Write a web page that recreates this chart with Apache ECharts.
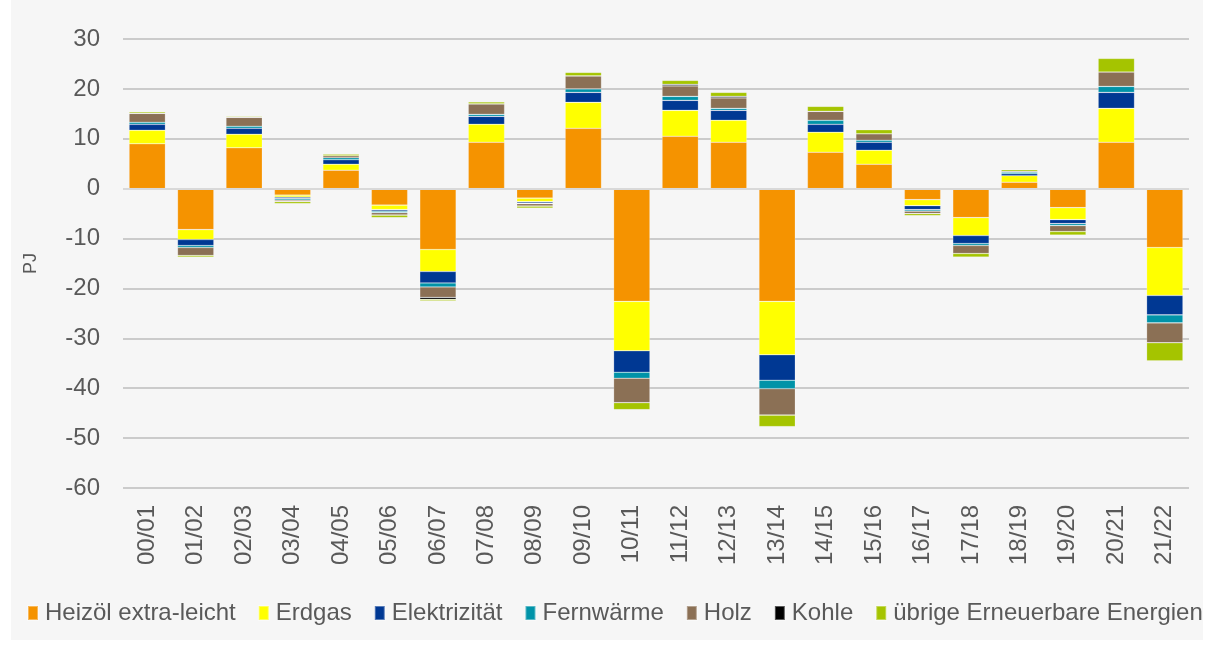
<!DOCTYPE html>
<html>
<head>
<meta charset="utf-8">
<script src="https://cdn.jsdelivr.net/npm/echarts@6/dist/echarts.min.js"></script>
<style>
html,body{margin:0;padding:0;background:#ffffff;}
#wrap{position:absolute;left:11px;top:0;width:1192px;height:640px;background:#f6f6f6;}
#chart{width:1192px;height:640px;}
</style>
</head>
<body>
<div id="wrap"><div id="chart"></div></div>
<script>
const categories = ['00/01','01/02','02/03','03/04','04/05','05/06','06/07','07/08','08/09','09/10','10/11','11/12','12/13','13/14','14/15','15/16','16/17','17/18','18/19','19/20','20/21','21/22'];
const seriesNames = ['Heizöl extra-leicht','Erdgas','Elektrizität','Fernwärme','Holz','Kohle','übrige Erneuerbare Energien'];
const heizoel      = [9.0,-8.2,8.2,-1.3,3.7,-3.3,-12.2,9.3,-1.9,12.1,-22.6,10.5,9.3,-22.6,7.3,4.9,-2.2,-5.8,1.3,-3.8,9.3,-11.8];
const erdgas       = [2.7,-2.0,2.7,-0.4,1.2,-0.9,-4.4,3.6,-0.7,5.2,-9.9,5.2,4.4,-10.7,4.0,2.8,-1.2,-3.6,1.3,-2.4,6.8,-9.6];
const elektrizitaet= [1.2,-1.2,1.2,-0.3,0.9,-0.3,-2.3,1.6,-0.3,2.0,-4.3,2.0,2.0,-5.1,1.6,1.6,-0.8,-1.6,0.4,-0.8,3.2,-3.9];
const fernwaerme   = [0.4,-0.4,0.4,-0.3,0.4,-0.3,-0.8,0.4,-0.1,0.7,-1.2,0.8,0.4,-1.7,0.8,0.4,-0.3,-0.4,0.3,-0.4,1.2,-1.6];
const holz         = [1.8,-1.6,1.8,-0.3,0.4,-0.5,-2.1,2.1,-0.5,2.6,-4.9,2.1,2.1,-5.3,1.8,1.3,-0.5,-1.6,0.2,-1.2,2.9,-4.0];
const kohle        = [0,0,0,0,0,0,-0.4,0,0,0,0,0.3,0.3,0,0,0,0,0,0,0,0,0];
const uebrige      = [0.3,-0.3,0.2,-0.4,0.3,-0.5,-0.3,0.4,-0.4,0.7,-1.4,0.8,0.8,-2.3,1.0,0.8,-0.4,-0.7,0.3,-0.7,2.7,-3.6];
const yMin = -60, yMax = 30, yStep = 10;

const values = [heizoel, erdgas, elektrizitaet, fernwaerme, holz, kohle, uebrige];
const colors = ['#F59300','#FFFF00','#003893','#0093A8','#8B7055','#000000','#A5C400'];

const chart = echarts.init(document.getElementById('chart'), null, {renderer:'canvas'});
const font = '"Liberation Sans", Arial, sans-serif';
chart.setOption({
  animation:false,
  backgroundColor:'transparent',
  textStyle:{fontFamily:font},
  grid:{left:112, right:14, top:39, bottom:152},
  legend:{
    top:601, left:16, width:1176, padding:0,
    itemWidth:10, itemHeight:14, itemGap:22,
    icon:'rect',
    textStyle:{fontFamily:font, fontSize:24, color:'#595959', padding:[0,0,0,2]},
    data:seriesNames
  },
  xAxis:{
    type:'category', data:categories,
    axisLine:{show:false}, axisTick:{show:false},
    axisLabel:{rotate:90, fontSize:24, color:'#595959', margin:17, fontFamily:font}
  },
  yAxis:{
    type:'value', min:yMin, max:yMax, interval:yStep,
    name:'PJ', nameLocation:'middle', nameGap:83, nameRotate:90,
    nameTextStyle:{fontSize:18, color:'#595959', fontFamily:font},
    axisLine:{show:false}, axisTick:{show:false},
    axisLabel:{fontSize:24, color:'#595959', margin:23, fontFamily:font},
    splitLine:{lineStyle:{color:'#bcbcbc', width:1.5}}
  },
  series: seriesNames.map((n,i)=>({
    name:n, type:'bar', stack:'total', data:values[i],
    barWidth:'75%',
    itemStyle:{color:colors[i], borderColor:'rgba(255,255,255,0.35)', borderWidth:0.6},
    markLine: i===0 ? {silent:true, symbol:'none', label:{show:false},
      lineStyle:{color:'#d9d9d9', width:2, type:'solid'}, data:[{yAxis:0}]} : undefined
  }))
});
</script>
</body>
</html>
